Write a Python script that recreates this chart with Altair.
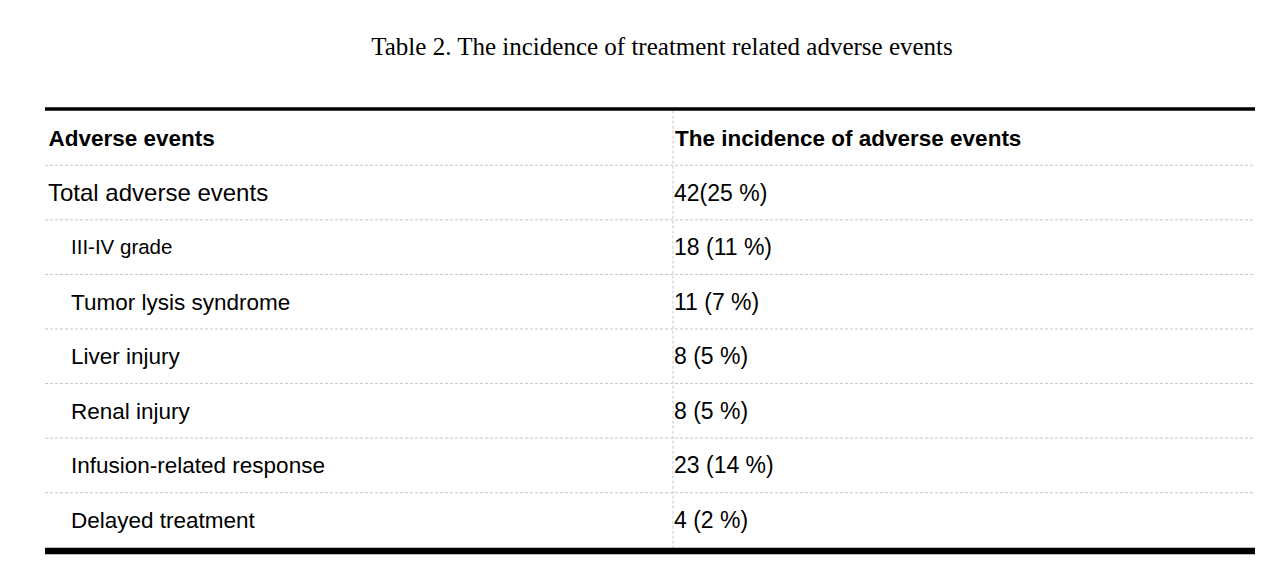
import altair as alt
import pandas as pd

# ---- data ----
title_text = "Table 2. The incidence of treatment related adverse events"
col_headers = ["Adverse events", "The incidence of adverse events"]
events = ["Total adverse events", "III-IV grade", "Tumor lysis syndrome", "Liver injury",
          "Renal injury", "Infusion-related response", "Delayed treatment"]
incidence = ["42(25 %)", "18 (11 %)", "11 (7 %)", "8 (5 %)", "8 (5 %)", "23 (14 %)", "4 (2 %)"]
levels = [0, 1, 1, 1, 1, 1, 1]

# ---- layout / style (not data) ----
label_sizes = [24, 20.5, 22.5, 22.5, 22.5, 22.5, 22.5]
FONT = "Liberation Sans"
XL0, XL1, XV = 48, 71, 674      # text x anchors (page px)
XDIV = 673
XLEFT, XRIGHT = 45, 1255

n = len(events)
rows = pd.DataFrame({
    "row": list(range(1, n + 1)),
    "label": events,
    "value": incidence,
    "x": [XL0 if l == 0 else XL1 for l in levels],
    "fs": label_sizes,
})
header = pd.DataFrame({"row": [0, 0], "label": col_headers, "x": [XL0 + 0.5, XV + 1]})

seps = pd.DataFrame({"y": [i + 0.5 for i in range(n)], "x": XLEFT, "x2": XRIGHT})
thick = pd.DataFrame({"y": [-0.531, 7.568], "w": [3.5, 6.5], "x": XLEFT, "x2": XRIGHT})
vdiv = pd.DataFrame({"x": [XDIV], "y": [-0.50], "y2": [7.53]})
tdf = pd.DataFrame({"t": [title_text], "x": [662], "y": [-1.66]})

XS = alt.Scale(domain=[8, 1255])
YS = alt.Scale(domain=[-2.382, 7.825], reverse=True)


def X(f):
    return alt.X(f, type="quantitative", scale=XS, axis=None)


def Y(f):
    return alt.Y(f, type="quantitative", scale=YS, axis=None)


dotted = dict(color="#c6c6c6", strokeWidth=1, strokeDash=[3, 2])

sep_layer = alt.Chart(seps).mark_rule(**dotted).encode(x=X("x"), x2="x2", y=Y("y"))
vdiv_layer = alt.Chart(vdiv).mark_rule(**dotted).encode(x=X("x"), y=Y("y"), y2="y2")
thick_layer = alt.Chart(thick).mark_rule(color="#000000").encode(
    x=X("x"), x2="x2", y=Y("y"), strokeWidth=alt.StrokeWidth("w:Q", scale=None, legend=None))

title_layer = alt.Chart(tdf).mark_text(
    font="Liberation Serif", fontSize=25, align="center", baseline="middle", color="#000000"
).encode(x=X("x"), y=Y("y"), text="t:N")

header_layer = alt.Chart(header).mark_text(
    font=FONT, fontSize=22.5, fontWeight="bold", align="left", baseline="middle", color="#000000", dy=1
).encode(x=X("x"), y=Y("row"), text="label:N")

label_layer = alt.Chart(rows).mark_text(
    font=FONT, align="left", baseline="middle", color="#000000", dy=1
).encode(x=X("x"), y=Y("row"), text="label:N", size=alt.Size("fs:Q", scale=None, legend=None))

value_layer = alt.Chart(rows).mark_text(
    font=FONT, fontSize=23, align="left", baseline="middle", color="#000000", dy=1
).encode(x=alt.value(XV - 8), y=Y("row"), text="value:N")

chart = alt.layer(
    sep_layer, vdiv_layer, thick_layer, title_layer, header_layer, label_layer, value_layer
).properties(
    width=1247, height=557, autosize=alt.AutoSizeParams(type="none"), padding=0, background="#ffffff"
).configure_view(stroke=None)

chart.save("out.html", embed_options={"renderer": "svg", "actions": False})
